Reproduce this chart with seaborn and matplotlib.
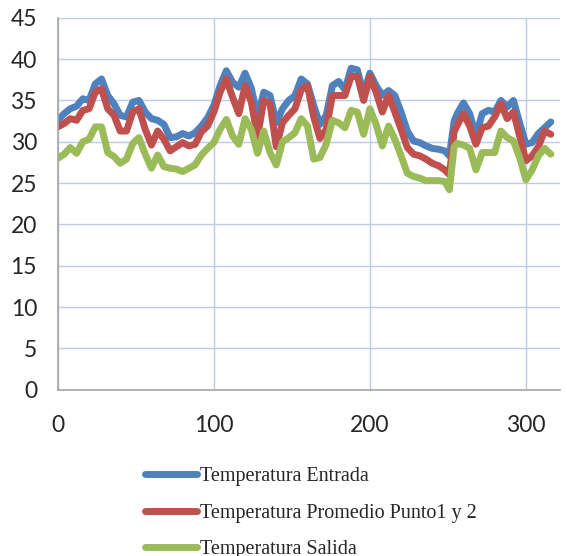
import numpy as np
import pandas as pd
import matplotlib
matplotlib.use('Agg')
import matplotlib.pyplot as plt
import seaborn as sns

# valores (x = numero de medicion)
medicion = [0, 4, 8, 12, 16, 20, 24, 28, 32, 36, 40, 44, 48, 52, 56, 60,
            64, 68, 72, 76, 80, 84, 88, 92, 96, 100, 104, 108, 112, 116, 120, 124,
            128, 132, 136, 140, 144, 148, 152, 156, 160, 164, 168, 172, 176, 180, 184, 188,
            192, 196, 200, 204, 208, 212, 216, 220, 224, 228, 232, 236, 240, 244, 248, 251,
            254, 256, 260, 264, 268, 272, 276, 280, 284, 288, 292, 296, 300, 304, 308, 312, 316]

temp_entrada = [32.6, 33.4, 34.0, 34.3, 35.2, 35.0, 37.0, 37.6, 35.6, 34.6, 33.2, 33.0, 34.8, 35.0, 33.6, 32.8,
                32.6, 32.1, 30.5, 30.6, 31.0, 30.7, 31.1, 31.9, 32.9, 34.4, 36.8, 38.6, 37.2, 36.6, 38.3, 36.5,
                33.0, 36.0, 35.6, 32.3, 34.0, 35.0, 35.6, 37.6, 37.0, 34.4, 32.1, 33.2, 36.8, 37.3, 36.3, 38.9,
                38.7, 35.8, 38.3, 36.8, 35.6, 36.2, 35.6, 33.6, 31.3, 30.1, 29.9, 29.5, 29.2, 29.1, 28.9, 28.3,
                32.5, 33.4, 34.7, 33.4, 30.7, 33.4, 33.8, 33.6, 35.0, 34.2, 35.0, 32.3, 29.7, 29.9, 31.0, 31.7, 32.4]

temp_promedio = [31.8, 32.2, 32.8, 32.6, 33.8, 34.0, 36.0, 36.4, 34.0, 33.2, 31.3, 31.3, 33.6, 34.0, 31.5, 29.6,
                 31.3, 30.3, 28.9, 29.4, 29.9, 29.5, 29.7, 31.2, 31.9, 33.6, 36.0, 37.6, 35.4, 33.4, 36.8, 34.8,
                 30.6, 35.0, 34.6, 29.4, 32.3, 33.2, 34.0, 36.3, 36.8, 33.0, 30.4, 31.5, 35.6, 35.6, 35.6, 37.9,
                 37.9, 35.0, 37.9, 36.0, 33.6, 35.6, 33.6, 31.5, 29.3, 28.5, 28.3, 27.9, 27.4, 27.1, 26.6, 26.0,
                 31.2, 32.0, 33.4, 31.9, 29.7, 31.7, 31.9, 33.0, 34.6, 32.8, 33.6, 30.7, 27.7, 28.3, 29.4, 31.3, 30.9]

temp_salida = [28.0, 28.5, 29.3, 28.6, 30.0, 30.3, 31.8, 31.8, 28.7, 28.2, 27.4, 27.9, 29.8, 30.5, 28.5, 26.8,
               28.4, 27.0, 26.8, 26.7, 26.4, 26.8, 27.2, 28.4, 29.2, 29.9, 31.5, 32.7, 30.7, 29.7, 32.8, 31.5,
               28.6, 31.3, 28.7, 27.2, 30.0, 30.5, 31.1, 32.8, 31.9, 27.9, 28.1, 29.7, 32.6, 32.3, 31.7, 33.8,
               33.6, 30.9, 34.0, 32.1, 29.5, 31.9, 30.3, 28.3, 26.2, 25.8, 25.6, 25.3, 25.3, 25.3, 25.2, 24.2,
               29.4, 29.8, 29.6, 29.2, 26.6, 28.7, 28.7, 28.7, 31.3, 30.5, 30.1, 28.1, 25.4, 26.6, 28.3, 29.2, 28.5]

series = ['Temperatura Entrada', 'Temperatura Promedio Punto1 y 2', 'Temperatura Salida']
colores = ['#4F81BD', '#C0504D', '#9BBB59']

df = pd.DataFrame({
    'x': medicion * 3,
    'valor': temp_entrada + temp_promedio + temp_salida,
    'serie': [series[0]] * len(medicion) + [series[1]] * len(medicion) + [series[2]] * len(medicion),
})

sns.set_style('white')

fig = plt.figure(figsize=(5.67, 5.56), dpi=100)
ax = fig.add_axes([0.102, 0.299, 0.886, 0.669])

sns.lineplot(data=df, x='x', y='valor', hue='serie', hue_order=series,
             palette=colores, linewidth=5, ax=ax, legend=False)
for ln in ax.get_lines():
    ln.set_solid_joinstyle('round')

ax.set_xlim(0, 322)
ax.set_ylim(0, 45)
ax.set_xticks([0, 100, 200, 300])
ax.set_yticks(range(0, 46, 5))
ax.set_xlabel('')
ax.set_ylabel('')

ax.grid(True, color='#BCCBEA', linewidth=1.0)
ax.set_axisbelow(True)
for s in ['top', 'right']:
    ax.spines[s].set_visible(False)
ax.spines['left'].set_color('#A6A6A6')
ax.spines['bottom'].set_color('#A6A6A6')
ax.spines['left'].set_linewidth(1.2)
ax.spines['bottom'].set_linewidth(1.2)

ax.tick_params(axis='both', length=0, labelsize=16.5, labelcolor='#262626')
ax.tick_params(axis='y', pad=15)
ax.tick_params(axis='x', pad=18)
for lbl in ax.get_xticklabels() + ax.get_yticklabels():
    lbl.set_family(['Lato', 'DejaVu Sans'])

handles = [plt.Line2D([], [], color=c, linewidth=5, solid_capstyle='round') for c in colores]
fig.legend(handles, series, loc='upper left', bbox_to_anchor=(0.224, 0.192),
           frameon=False, handlelength=2.6, handletextpad=0.12, labelspacing=0.85,
           prop={'family': 'Liberation Serif', 'size': 14.5})

fig.savefig('out.png', dpi=100)
